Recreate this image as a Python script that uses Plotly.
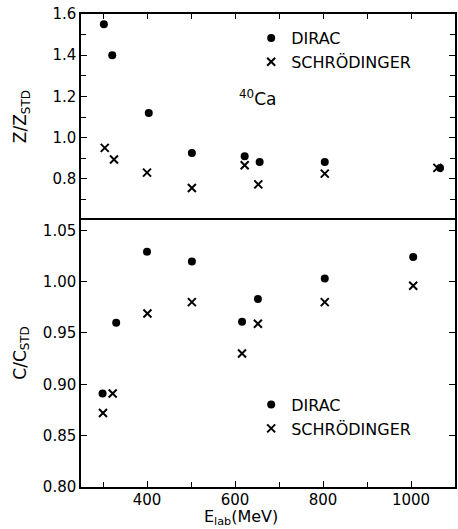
import plotly.graph_objects as go

# Top panel: Z / Z_STD
energy_dirac_z = [302, 321, 404, 502, 622, 656, 804, 1066]
z_dirac = [1.55, 1.40, 1.12, 0.925, 0.91, 0.882, 0.882, 0.853]
energy_schr_z = [304, 325, 400, 502, 622, 653, 804, 1060]
z_schr = [0.95, 0.894, 0.83, 0.755, 0.866, 0.773, 0.825, 0.853]

# Bottom panel: C / C_STD
energy_dirac_c = [299, 330, 400, 502, 616, 652, 804, 1005]
c_dirac = [0.891, 0.960, 1.029, 1.0195, 0.961, 0.983, 1.003, 1.024]
energy_schr_c = [300, 322, 401, 502, 616, 652, 804, 1005]
c_schr = [0.872, 0.891, 0.969, 0.980, 0.930, 0.959, 0.980, 0.996]

z_tickvals = [0.8, 1.0, 1.2, 1.4, 1.6]
z_ticktext = ["0.8", "1.0", "1.2", "1.4", "1.6"]
c_tickvals = [0.80, 0.85, 0.90, 0.95, 1.00, 1.05]
c_ticktext = ["0.80", "0.85", "0.90", "0.95", "1.00", "1.05"]
x_tickvals = [400, 600, 800, 1000]
x_ticktext = ["400", "600", "800", "1000"]

FONT = "DejaVu Sans"
dot = dict(symbol="circle", size=8, color="black")
cross = dict(symbol="x-thin", size=8, color="black", line=dict(width=2, color="black"))

fig = go.Figure()
fig.add_trace(go.Scatter(x=energy_dirac_z, y=z_dirac, mode="markers", marker=dot,
                         name="DIRAC", xaxis="x2", yaxis="y2", legend="legend"))
fig.add_trace(go.Scatter(x=energy_schr_z, y=z_schr, mode="markers", marker=cross,
                         name="SCHRÖDINGER", xaxis="x2", yaxis="y2", legend="legend"))
fig.add_trace(go.Scatter(x=energy_dirac_c, y=c_dirac, mode="markers", marker=dot,
                         name="DIRAC", xaxis="x", yaxis="y", legend="legend2"))
fig.add_trace(go.Scatter(x=energy_schr_c, y=c_schr, mode="markers", marker=cross,
                         name="SCHRÖDINGER", xaxis="x", yaxis="y", legend="legend2"))

split = 267 / 473
axis_common = dict(showline=True, linecolor="black", linewidth=1.5, ticks="inside",
                   tickcolor="black", tickwidth=1.2, showgrid=False, zeroline=False,
                   tickfont=dict(family=FONT, size=15, color="black"))

fig.update_layout(
    width=458, height=529,
    margin=dict(l=81, r=1, t=14, b=42),
    paper_bgcolor="white", plot_bgcolor="white",
    font=dict(family=FONT, color="black"),
    showlegend=True,
    xaxis=dict(**axis_common, range=[250, 1100], anchor="y", mirror=True,
               tickvals=x_tickvals, ticktext=x_ticktext, ticklen=6, ticklabelstandoff=-2,
               minor=dict(dtick=100, tick0=0, ticks="inside", ticklen=5,
                          tickcolor="black", tickwidth=1.2)),
    yaxis=dict(**axis_common, range=[0.80, 1.06], domain=[0, split], anchor="x",
               mirror="ticks", tickvals=c_tickvals, ticktext=c_ticktext, ticklen=6),
    xaxis2=dict(**axis_common, range=[250, 1100], anchor="y2", side="top", mirror=False,
                dtick=100, tick0=0, showticklabels=False, ticklen=5),
    yaxis2=dict(**axis_common, range=[0.6, 1.6], domain=[split, 1], anchor="x2",
                mirror="ticks", tickvals=z_tickvals, ticktext=z_ticktext, ticklen=6,
                minor=dict(dtick=0.1, tick0=0, ticks="inside", ticklen=5,
                           tickcolor="black", tickwidth=1.2)),
    legend=dict(x=0.455, y=0.985, xanchor="left", yanchor="top",
                font=dict(family=FONT, size=16, color="black"),
                bgcolor="rgba(0,0,0,0)", itemwidth=30, tracegroupgap=0),
    legend2=dict(x=0.455, y=0.21, xanchor="left", yanchor="top",
                 font=dict(family=FONT, size=16, color="black"),
                 bgcolor="rgba(0,0,0,0)", itemwidth=30, tracegroupgap=0),
    annotations=[
        dict(text="<sup>40</sup>Ca", x=651, y=1.19, xref="x2", yref="y2",
             showarrow=False, font=dict(family=FONT, size=17, color="black")),
        dict(text="Z/Z<sub>STD</sub>", x=-0.16, y=0.5 * (1 + split), xref="paper", yref="paper",
             textangle=-90, showarrow=False, xanchor="center", yanchor="middle",
             font=dict(family=FONT, size=17, color="black")),
        dict(text="C/C<sub>STD</sub>", x=-0.16, y=0.5 * split, xref="paper", yref="paper",
             textangle=-90, showarrow=False, xanchor="center", yanchor="middle",
             font=dict(family=FONT, size=17, color="black")),
        dict(text="E<sub>lab</sub>(MeV)", x=(242 - 81) / 376, y=0, yshift=-30,
             xref="paper", yref="paper", showarrow=False, xanchor="center", yanchor="middle",
             borderpad=0, font=dict(family=FONT, size=16, color="black")),
    ],
)

fig.write_html("out.html")
